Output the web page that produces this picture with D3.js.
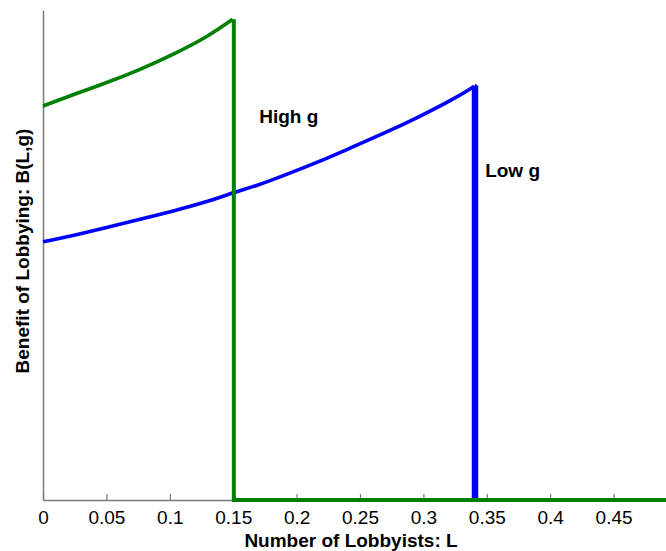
<!DOCTYPE html>
<html><head><meta charset="utf-8">
<script src="https://cdn.jsdelivr.net/npm/d3@7"></script>
<style>
html,body{margin:0;padding:0;background:#fff;}
svg{display:block;font-family:"Liberation Sans",Arial,sans-serif;}
</style></head>
<body>
<svg id="chart" width="666" height="551"></svg>
<script>
// ---- data (y in arbitrary units 0..1) ----
const highL = [0, 0.0237, 0.0502, 0.0765, 0.1028, 0.1291, 0.1496];
const highB = [0.804, 0.827, 0.852, 0.879, 0.910, 0.946, 0.981];
const highDropL = 0.1505;

const lowL = [0, 0.0237, 0.0502, 0.0765, 0.1028, 0.1291, 0.1501, 0.1685, 0.1895, 0.2159, 0.2421, 0.2684, 0.2947, 0.3210, 0.3381, 0.3407];
const lowB = [0.527, 0.540, 0.556, 0.573, 0.590, 0.609, 0.627, 0.642, 0.662, 0.689, 0.718, 0.748, 0.780, 0.815, 0.841, 0.846];
const lowDropL = 0.3407;

const xTicks = [0, 0.05, 0.1, 0.15, 0.2, 0.25, 0.3, 0.35, 0.4, 0.45];
const xTickLabels = ["0", "0.05", "0.1", "0.15", "0.2", "0.25", "0.3", "0.35", "0.4", "0.45"];
const labels = [
  {text: "High g", L: 0.1705, B: 0.770},
  {text: "Low g", L: 0.3487, B: 0.659}
];
const xTitle = "Number of Lobbyists: L";
const yTitle = "Benefit of Lobbying: B(L,g)";

// ---- layout ----
const svg = d3.select("#chart");
const plotLeft = 43, plotRight = 666, plotTop = 10, plotBottom = 500;
const xMax = (plotRight - plotLeft) / 1268;
const x = d3.scaleLinear().domain([0, xMax]).range([plotLeft, plotRight]);
const y = d3.scaleLinear().domain([0, 1]).range([plotBottom, plotTop]);

const axisColor = "#7a7a7a";

// axes
const gx = svg.append("g").attr("transform", `translate(0,${plotBottom})`)
  .call(d3.axisBottom(x).tickValues(xTicks)
    .tickFormat((d, i) => xTickLabels[i])
    .tickSizeInner(-6).tickSizeOuter(0).tickPadding(10.5));
gx.select(".domain").attr("stroke", axisColor).attr("stroke-width", 1.5);
gx.selectAll(".tick line").attr("stroke", axisColor).attr("stroke-width", 1.2);
gx.selectAll(".tick text").attr("font-size", 19).attr("fill", "#000")
  .attr("font-family", '"Liberation Sans",Arial,sans-serif');

const gy = svg.append("g").attr("transform", `translate(${plotLeft},0)`)
  .call(d3.axisLeft(y).tickValues([]).tickSizeOuter(0));
gy.select(".domain").attr("stroke", axisColor).attr("stroke-width", 1.5);

// lines
const line = d3.line().x(d => x(d[0])).y(d => y(d[1])).curve(d3.curveNatural);
const seg = d3.line().x(d => x(d[0])).y(d => y(d[1]));

const lowPts = lowL.map((l, i) => [l, lowB[i]]);
const highPts = highL.map((l, i) => [l, highB[i]]);

// low g (blue)
svg.append("path").attr("d", line(lowPts)).attr("fill", "none")
  .attr("stroke", "#0000ff").attr("stroke-width", 3.6).attr("stroke-linejoin", "round");
svg.append("path").attr("d", seg([[lowDropL, lowB[lowB.length - 1]], [lowDropL, 0]]))
  .attr("fill", "none").attr("stroke", "#0000ff").attr("stroke-width", 6.5);

// high g (green)
svg.append("path").attr("d", line(highPts)).attr("fill", "none")
  .attr("stroke", "#008000").attr("stroke-width", 3.6).attr("stroke-linejoin", "round");
svg.append("path").attr("d", seg([[highDropL, highB[highB.length - 1]], [highDropL, 0], [xMax, 0]]))
  .attr("fill", "none").attr("stroke", "#008000").attr("stroke-width", 4);

// annotations
svg.selectAll("text.ann").data(labels).enter().append("text")
  .attr("class", "ann")
  .attr("x", d => x(d.L)).attr("y", d => y(d.B))
  .attr("font-size", 19).attr("font-weight", "bold").attr("fill", "#000")
  .text(d => d.text);

// titles
svg.append("text").attr("x", 351).attr("y", 546.5).attr("text-anchor", "middle")
  .attr("font-size", 19).attr("font-weight", "bold").text(xTitle);
svg.append("text").attr("transform", "translate(29,251) rotate(-90)")
  .attr("text-anchor", "middle")
  .attr("font-size", 19).attr("font-weight", "bold").text(yTitle);
</script>
</body></html>
